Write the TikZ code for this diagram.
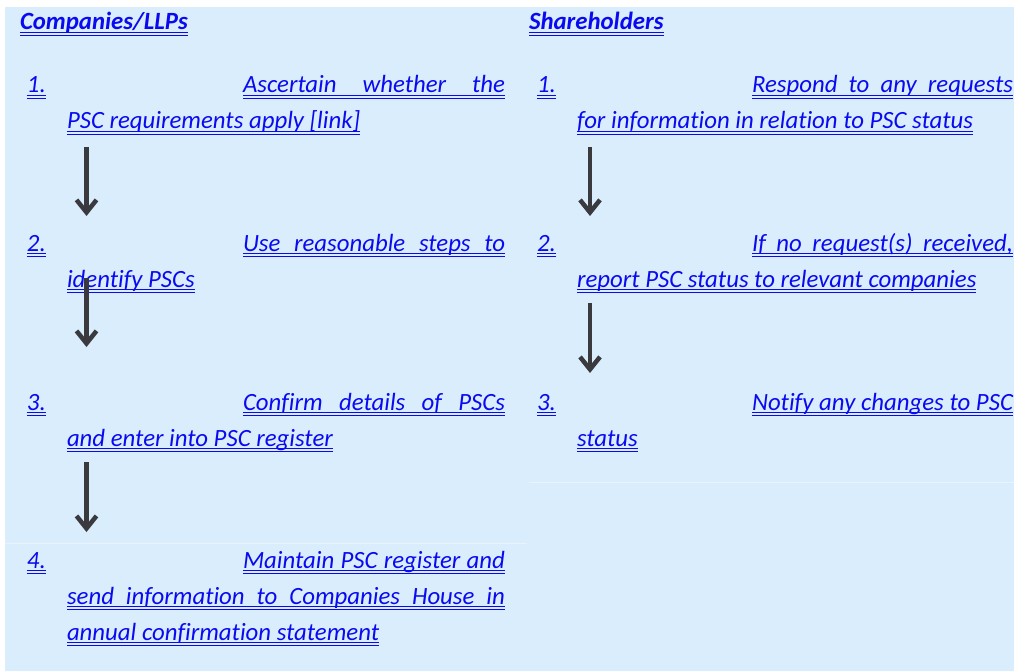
\documentclass[tikz,border=0pt]{standalone}
\usepackage{fontspec}
\setmainfont[Ligatures=NoCommon]{Carlito}
\usetikzlibrary{arrows.meta}

\definecolor{panelbg}{RGB}{218,237,253}
\definecolor{rowline}{RGB}{232,243,253}
\definecolor{linkblue}{RGB}{10,10,240}
\definecolor{arrowgray}{RGB}{58,58,62}

% double underline at a fixed distance below the baseline
\newsavebox\ulbox
\newcommand\dul[1]{%
  \sbox\ulbox{#1}\dp\ulbox=0pt
  \vtop{\copy\ulbox\kern2.3pt\hrule height .9pt width \wd\ulbox
        \kern2pt\hrule height .9pt width \wd\ulbox}}
% a line whose words are spread to a given width
\newcommand\jline[2]{\dul{\makebox[#1][s]{#2}}}

\tikzset{
  txt/.style={inner sep=0pt, outer sep=0pt, anchor=base west, text=linkblue,
              font=\fontsize{24.8}{30}\selectfont\itshape},
  head/.style={txt, font=\fontsize{24.8}{30}\selectfont\bfseries\itshape},
  flow/.style={draw=arrowgray, line width=4.5pt,
               -{Straight Barb[length=12.5pt,width=20pt]}},
}

\begin{document}
\begin{tikzpicture}[x=1pt,y=-1pt]
\useasboundingbox (0,0) rectangle (1014,671);
\fill[panelbg] (5,7) rectangle (1014,671);
\draw[rowline, line width=1pt] (5,543) -- (527,543);
\draw[rowline, line width=1pt] (529,482) -- (1014,482);

% column headings
\node[head] (hL) at (20,30) {\dul{Companies/LLPs}};
\node[head] (hR) at (529,30) {\dul{Shareholders}};

% Companies/LLPs steps
\node[txt] (L1n) at (27,93) {\dul{1.}};
\node[txt] (L1a) at (243,93) {\jline{262pt}{Ascertain whether the}};
\node[txt] (L1b) at (67,129) {\dul{PSC requirements apply [link]}};

\node[txt] (L2n) at (27,251) {\dul{2.}};
\node[txt] (L2a) at (243,251) {\jline{262pt}{Use reasonable steps to}};
\node[txt] (L2b) at (67,287) {\dul{identify PSCs}};

\node[txt] (L3n) at (27,410) {\dul{3.}};
\node[txt] (L3a) at (243,410) {\jline{262pt}{Confirm details of PSCs}};
\node[txt] (L3b) at (67,446) {\dul{and enter into PSC register}};

\node[txt] (L4n) at (27,568) {\dul{4.}};
\node[txt] (L4a) at (243,568) {\jline{262pt}{Maintain PSC register and}};
\node[txt] (L4b) at (67,604) {\jline{438pt}{send information to Companies House in}};
\node[txt] (L4c) at (67,640) {\dul{annual confirmation statement}};

% Shareholders steps
\node[txt] (R1n) at (537,93) {\dul{1.}};
\node[txt] (R1a) at (752,93) {\jline{261pt}{Respond to any requests}};
\node[txt] (R1b) at (577,129) {\dul{for information in relation to PSC status}};

\node[txt] (R2n) at (537,251) {\dul{2.}};
\node[txt] (R2a) at (752,251) {\jline{261pt}{If no request(s) received,}};
\node[txt] (R2b) at (577,287) {\dul{report PSC status to relevant companies}};

\node[txt] (R3n) at (537,410) {\dul{3.}};
\node[txt] (R3a) at (752,410) {\jline{261pt}{Notify any changes to PSC}};
\node[txt] (R3b) at (577,446) {\dul{status}};

% arrow end points
\coordinate (la1s) at (86.5,147);
\coordinate (la1e) at (86.5,216);
\coordinate (la2s) at (86.5,278);
\coordinate (la2e) at (86.5,347);
\coordinate (la3s) at (86.5,462);
\coordinate (la3e) at (86.5,532);
\coordinate (ra1s) at (590,147);
\coordinate (ra1e) at (590,216);
\coordinate (ra2s) at (590,303);
\coordinate (ra2e) at (590,373);

\draw[flow] (la1s) -- (la1e);
\draw[flow] (la2s) -- (la2e);
\draw[flow] (la3s) -- (la3e);
\draw[flow] (ra1s) -- (ra1e);
\draw[flow] (ra2s) -- (ra2e);
\end{tikzpicture}
\end{document}
